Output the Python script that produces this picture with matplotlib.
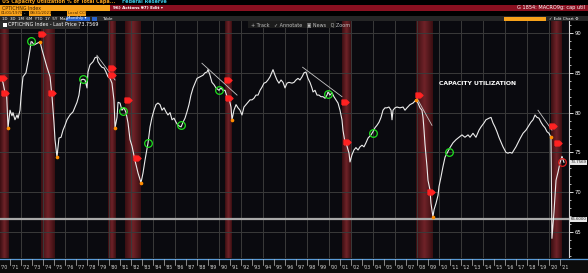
import matplotlib
matplotlib.use('Agg')
import matplotlib.pyplot as plt
from matplotlib.patches import Rectangle
import numpy as np

# Utilizacion de capacidad (CPTICHNG Index), mensual aprox.
anos = [1970.09, 1970.36, 1970.55, 1970.70, 1970.82, 1971.0, 1971.18, 1971.27, 1971.45, 1971.64,
        1971.73, 1971.91, 1972.0, 1972.18, 1972.45, 1972.64, 1972.82, 1972.91, 1973.0, 1973.18,
        1973.45, 1973.73, 1973.91, 1974.18, 1974.36, 1974.64, 1974.82, 1975.0, 1975.09, 1975.27,
        1975.45, 1975.64, 1975.82, 1976.0, 1976.18, 1976.45, 1976.73, 1976.91, 1977.09, 1977.27,
        1977.45, 1977.64, 1977.82, 1978.0, 1978.09, 1978.27, 1978.55, 1978.73, 1978.91, 1979.0,
        1979.18, 1979.36, 1979.55, 1979.73, 1979.91, 1980.09, 1980.27, 1980.45, 1980.55, 1980.73,
        1980.82, 1981.0, 1981.18, 1981.36, 1981.55, 1981.73, 1981.91, 1982.09, 1982.36, 1982.64,
        1982.91, 1983.09, 1983.27, 1983.55, 1983.73, 1983.91, 1984.09, 1984.27, 1984.45, 1984.64,
        1984.82, 1985.0, 1985.18, 1985.36, 1985.55, 1985.73, 1985.91, 1986.09, 1986.27, 1986.55,
        1986.73, 1986.91, 1987.09, 1987.27, 1987.45, 1987.64, 1987.82, 1988.0, 1988.27, 1988.55,
        1988.73, 1988.91, 1989.0, 1989.18, 1989.36, 1989.55, 1989.73, 1990.0, 1990.18, 1990.36,
        1990.55, 1990.73, 1990.91, 1991.09, 1991.18, 1991.36, 1991.55, 1991.73, 1991.91, 1992.09,
        1992.27, 1992.45, 1992.64, 1992.82, 1993.0, 1993.18, 1993.36, 1993.55, 1993.73, 1993.91,
        1994.09, 1994.27, 1994.45, 1994.64, 1994.82, 1994.91, 1995.09, 1995.27, 1995.45, 1995.64,
        1995.82, 1996.0, 1996.18, 1996.36, 1996.64, 1996.82, 1997.0, 1997.18, 1997.36, 1997.55,
        1997.73, 1997.91, 1998.09, 1998.27, 1998.45, 1998.55, 1998.73, 1998.91, 1999.09, 1999.27,
        1999.45, 1999.64, 1999.82, 1999.91, 2000.09, 2000.27, 2000.45, 2000.64, 2000.82, 2001.0,
        2001.18, 2001.27, 2001.45, 2001.55, 2001.82, 2001.91, 2002.09, 2002.27, 2002.45, 2002.64,
        2002.82, 2003.0, 2003.18, 2003.36, 2003.55, 2003.82, 2004.0, 2004.18, 2004.36, 2004.55,
        2004.73, 2004.91, 2005.09, 2005.27, 2005.45, 2005.64, 2005.73, 2005.82, 2006.0, 2006.18,
        2006.45, 2006.73, 2006.91, 2007.09, 2007.36, 2007.64, 2007.91, 2008.09, 2008.27, 2008.45,
        2008.55, 2008.64, 2008.73, 2008.91, 2009.0, 2009.18, 2009.27, 2009.45, 2009.55, 2009.73,
        2009.91, 2010.0, 2010.18, 2010.36, 2010.55, 2010.73, 2011.0, 2011.27, 2011.55, 2011.82,
        2012.09, 2012.36, 2012.64, 2012.82, 2013.09, 2013.36, 2013.64, 2013.82, 2014.09, 2014.27,
        2014.55, 2014.73, 2014.91, 2015.09, 2015.27, 2015.45, 2015.64, 2015.82, 2016.09, 2016.27,
        2016.45, 2016.64, 2016.82, 2017.0, 2017.18, 2017.36, 2017.64, 2017.91, 2018.18, 2018.36,
        2018.55, 2018.73, 2018.91, 2019.09, 2019.27, 2019.45, 2019.64, 2019.82, 2020.0, 2020.18,
        2020.27, 2020.45, 2020.64, 2020.82, 2021.0, 2021.18, 2021.36]
valores = [84.5, 83.8, 82.5, 82.0, 78.1, 80.3, 79.6, 80.0, 79.1, 79.7,
           79.3, 80.3, 82.0, 84.5, 85.0, 86.4, 87.9, 88.9, 88.9, 88.5,
           88.7, 88.9, 87.9, 86.6, 85.7, 84.5, 82.0, 78.7, 76.6, 74.4,
           76.8, 76.9, 77.8, 78.4, 79.1, 79.7, 80.1, 80.7, 81.3, 82.2,
           84.1, 84.2, 84.1, 83.1, 85.1, 86.0, 86.4, 86.9, 87.0, 86.4,
           86.0, 85.7, 85.6, 85.1, 84.5, 84.3, 83.7, 81.6, 78.1, 79.4,
           81.3, 81.2, 80.3, 80.6, 80.0, 78.7, 76.6, 75.8, 74.0, 72.4,
           71.2, 72.4, 74.0, 76.2, 78.2, 79.4, 80.3, 81.0, 81.2, 81.0,
           80.3, 80.6, 80.1, 79.7, 80.0, 79.1, 79.3, 78.8, 78.4, 78.2,
           78.8, 79.3, 80.1, 81.0, 82.2, 83.1, 83.7, 84.3, 84.5, 84.7,
           85.0, 85.1, 85.4, 84.7, 83.8, 83.5, 83.1, 82.8, 83.1, 82.8,
           82.8, 82.0, 81.8, 80.7, 79.1, 80.3, 81.0, 80.6, 80.3, 79.7,
           80.7, 81.0, 81.3, 81.6, 81.6, 81.8, 82.2, 82.2, 82.8, 83.2,
           83.7, 83.8, 84.1, 84.5, 85.1, 85.4, 84.7, 84.1, 83.7, 84.1,
           83.8, 83.1, 83.7, 83.8, 83.7, 83.8, 84.1, 84.3, 84.1, 84.5,
           85.0, 85.1, 84.3, 83.8, 83.1, 82.6, 82.8, 82.2, 82.2, 82.0,
           82.0, 81.8, 82.2, 82.6, 82.2, 82.5, 82.0, 81.6, 81.2, 80.3,
           79.1, 77.8, 76.3, 76.2, 74.9, 73.8, 74.7, 75.3, 75.6, 75.3,
           75.7, 75.9, 75.7, 76.2, 76.8, 77.2, 77.6, 78.1, 78.4, 78.8,
           79.4, 80.3, 80.6, 80.6, 80.7, 80.3, 79.1, 80.3, 80.6, 80.7,
           80.6, 80.7, 80.3, 80.6, 81.0, 81.2, 81.6, 81.2, 80.6, 80.3,
           79.4, 77.8, 76.0, 73.2, 71.5, 70.3, 68.6, 66.9, 67.8, 68.6,
           69.6, 70.7, 71.9, 73.2, 74.4, 74.9, 75.6, 76.2, 76.6, 76.9,
           77.2, 76.9, 77.2, 76.9, 77.4, 76.9, 77.8, 78.2, 78.7, 79.1,
           79.3, 79.4, 78.7, 78.2, 77.6, 76.9, 76.3, 75.7, 75.0, 74.9,
           75.0, 74.9, 75.3, 75.7, 76.2, 76.7, 77.4, 77.8, 78.4, 78.8,
           79.1, 79.7, 79.4, 79.3, 78.8, 78.4, 78.1, 77.6, 77.4, 76.9,
           64.2, 67.4, 71.5, 72.5, 73.7, 74.5, 73.76]

# Recesiones (bandas rojas)
recesiones = [(1970.09, 1970.82), (1973.82, 1975.09), (1979.91, 1980.55), (1981.45, 1982.82),
              (1990.55, 1991.18), (2001.18, 2001.91), (2007.91, 2009.45), (2020.18, 2021.18)]

# Circulos verdes
verde_x = [1972.91, 1977.64, 1981.27, 1983.55, 1986.55, 1990.0, 1999.91, 2004.0, 2010.91]
verde_y = [89.0, 84.2, 80.2, 76.2, 78.4, 82.8, 82.3, 77.4, 75.0]

# Banderas rojas
bandera_x = [1970.36, 1970.55, 1973.9, 1974.8, 1980.3, 1980.3, 1981.7, 1982.5,
             1990.8, 1990.9, 2001.5, 2001.6, 2008.2, 2009.3, 2020.4, 2020.8]
bandera_y = [84.3, 82.5, 89.9, 82.5, 85.6, 84.7, 81.6, 74.3,
             84.1, 81.8, 81.3, 76.3, 82.2, 70.0, 78.3, 76.2]

# Puntos naranjas (extremos)
naranja_x = [1970.82, 1973.73, 1975.27, 1980.55, 1982.91, 1991.18, 2007.91, 2009.45, 2020.18]
naranja_y = [78.1, 88.9, 74.4, 78.1, 71.2, 79.1, 81.6, 66.9, 76.9]

# Lineas de tendencia
tend_x = [(1978.9, 1980.55), (1988.45, 1991.64), (1997.6, 2001.18), (2008.0, 2009.36), (2019.0, 2020.27)]
tend_y = [(87.2, 84.1), (86.2, 82.2), (85.7, 82.0), (81.8, 78.4), (80.3, 77.8)]

ultimo = 73.7569
nivel = 66.6
anos_eje = list(range(1970, 2022))

W, H = 588, 273
fig = plt.figure(figsize=(W / 100, H / 100), dpi=100)
fig.patch.set_facecolor('#000000')

# lienzo en pixeles para el marco de Bloomberg
cv = fig.add_axes([0, 0, 1, 1], zorder=0)
cv.set_xlim(0, W); cv.set_ylim(H, 0); cv.axis('off')

def caja(x, y, w, h, c, z=1):
    cv.add_patch(Rectangle((x, y), w, h, facecolor=c, edgecolor='none', zorder=z))

def txt(x, y, s, c='white', fs=3.8, ha='left', **kw):
    cv.text(x, y, s, color=c, fontsize=fs, ha=ha, va='center', zorder=3, **kw)

naranja = '#f7a21b'
caja(0, 0, W, 5, '#000000')
txt(2, 1.8, 'US Capacity Utilization % of Total Capa...', naranja, 3.5, fontweight='bold')
txt(122, 1.8, 'Federal Reserve', '#3cc8e6', 3.5, fontweight='bold')
caja(0, 5, W, 6, '#8a1020')
caja(0, 5, 110, 6, naranja, 2)
txt(2, 8, 'CPTICHNG Index', '#402000', 3.4)
txt(113, 8, '96) Actions \u25be', 'white', 3.0, fontweight='bold')
txt(141, 8, '97) Edit \u25be', 'white', 3.0, fontweight='bold')
txt(585, 8, 'G 1854: MACRO9g: cap util', 'white', 3.6, ha='right')
caja(0, 11, 22, 5, naranja, 2); txt(0.5, 13.5, '01/01/1970', '#402000', 2.8)
txt(24, 13.5, '-', 'white', 2.8)
caja(29, 11, 22, 5, naranja, 2); txt(29.5, 13.5, '08/31/2021', '#402000', 2.8)
caja(67, 11, 19, 5, naranja, 2); txt(67.5, 13.5, 'Local CCY', '#402000', 2.8)
caja(0, 16, W, 5, '#262626')
txt(2, 18.5, '1D  3D  1M  6M  YTD  1Y  5Y  Max', 'white', 2.9)
caja(66, 16.5, 24, 4, '#2a62c9', 2); txt(67, 18.5, 'Monthly \u25be', 'white', 2.9)
caja(92, 16.5, 5, 4, '#2a62c9', 2)
txt(102, 18.5, 'Table', 'white', 2.9)
caja(504, 16.5, 42, 4, naranja, 2)
txt(549, 18.5, '\u2713 Edit Chart \u2699', 'white', 2.9)

# eje principal
ax = fig.add_axes([0, 15 / H, 569 / W, 237 / H], zorder=1)
ax.set_facecolor('#0a0a0f')
ax.set_xlim(1970.09, 2021.82)
ax.set_ylim(61.73, 91.51)

rojo = matplotlib.colors.LinearSegmentedColormap.from_list('r', ['#6e2228', '#3a0f12'])
for a, b in recesiones:
    grad = np.abs(np.linspace(-1, 1, 40))[None, :]
    ax.imshow(grad, cmap=rojo, extent=(a, b, 61.73, 91.51), aspect='auto', zorder=1,
              interpolation='bilinear')

for v in range(65, 91, 5):
    ax.axhline(v, color='#3a3a3a', lw=0.7, zorder=2)
for a in range(1972, 2021, 2):
    ax.axvline(a, color='#3a3a3a', lw=0.7, zorder=2)

ax.axhline(nivel, color='#a8a8a8', lw=1.6, zorder=3)

for (x0, x1), (y0, y1) in zip(tend_x, tend_y):
    ax.plot([x0, x1], [y0, y1], color='#c8c8c8', lw=0.6, zorder=4)

ax.plot(anos, valores, color='#ececec', lw=0.8, zorder=5)
ax.plot(naranja_x, naranja_y, 'o', color='#ff8c00', ms=1.6, zorder=6)

pent = [(-1, -0.7), (0.25, -0.7), (1, 0), (0.25, 0.7), (-1, 0.7), (-1, -0.7)]
ax.plot(bandera_x, bandera_y, linestyle='none', marker=pent, color='#ff2222', ms=5, zorder=7)
ax.plot(verde_x, verde_y, 'o', mfc='none', mec='#1fe01f', ms=5.5, mew=0.9, zorder=7)
ax.plot([2021.2], [ultimo], 'o', mfc='none', mec='#e02020', ms=5.5, mew=0.9, zorder=7)

ax.text(2013.5, 83.6, 'CAPACITY UTILIZATION', color='white', fontsize=4.4,
        ha='center', va='center', fontweight='bold', zorder=8)

# eje derecho
ax.yaxis.tick_right()
ax.set_yticks(range(65, 91, 5))
ax.set_yticks(range(62, 92), minor=True)
ax.tick_params(axis='y', which='major', colors='white', labelsize=3.8, length=3, width=0.6, pad=1)
ax.tick_params(axis='y', which='minor', colors='white', length=1.5, width=0.5)
ax.set_xticks([])
for s in ['top', 'left', 'bottom']:
    ax.spines[s].set_visible(False)
ax.spines['right'].set_color('#d0d0d0')
ax.spines['right'].set_linewidth(0.8)

for v, lab in [(ultimo, '73.7569'), (nivel, '66.6000')]:
    ax.annotate(lab, xy=(1.003, v), xycoords=('axes fraction', 'data'), fontsize=2.8,
                color='#202020', va='center', ha='left', annotation_clip=False,
                bbox=dict(boxstyle='square,pad=0.1', fc='#e6e6e6', ec='none'))

# leyenda y barra de herramientas superpuestas
ov = fig.add_axes([0, 0, 1, 1], zorder=2)
ov.set_xlim(0, W); ov.set_ylim(H, 0); ov.axis('off')
ov.add_patch(Rectangle((0, 21), 80, 8, facecolor='#2b2b2b', edgecolor='none'))
ov.add_patch(Rectangle((2.5, 23), 4, 4, facecolor='white', edgecolor='none'))
ov.text(8, 25, 'CPTICHNG Index - Last Price 73.7569', color='white', fontsize=3.5, va='center')
ov.add_patch(Rectangle((248, 21), 88, 7, facecolor='#1c1c1c', edgecolor='none'))
ov.text(251, 24.5, '+ Track   \u2713 Annotate   \u25a3 News   Q Zoom', color='#c0c0c0', fontsize=3.5, va='center')

# franja de etiquetas de anos
ov.add_patch(Rectangle((0, 258), W, 15, facecolor='#0c0c0c', edgecolor='none'))
ov.plot([0, W], [258.5, 258.5], color='#5a9ad6', lw=0.9)
ej = fig.add_axes([0, 0, 569 / W, 15 / H], zorder=3)
ej.set_xlim(1970.09, 2021.82); ej.set_ylim(0, 1); ej.axis('off')
for a in anos_eje:
    ej.text(a + 0.5, 0.35, "'" + str(a)[2:], color='#d8d8d8', fontsize=3.3, ha='center', va='center')
    ej.plot([a, a], [0.55, 0.95], color='#bbbbbb', lw=0.5)

fig.savefig('out.png', dpi=100, facecolor=fig.get_facecolor())
